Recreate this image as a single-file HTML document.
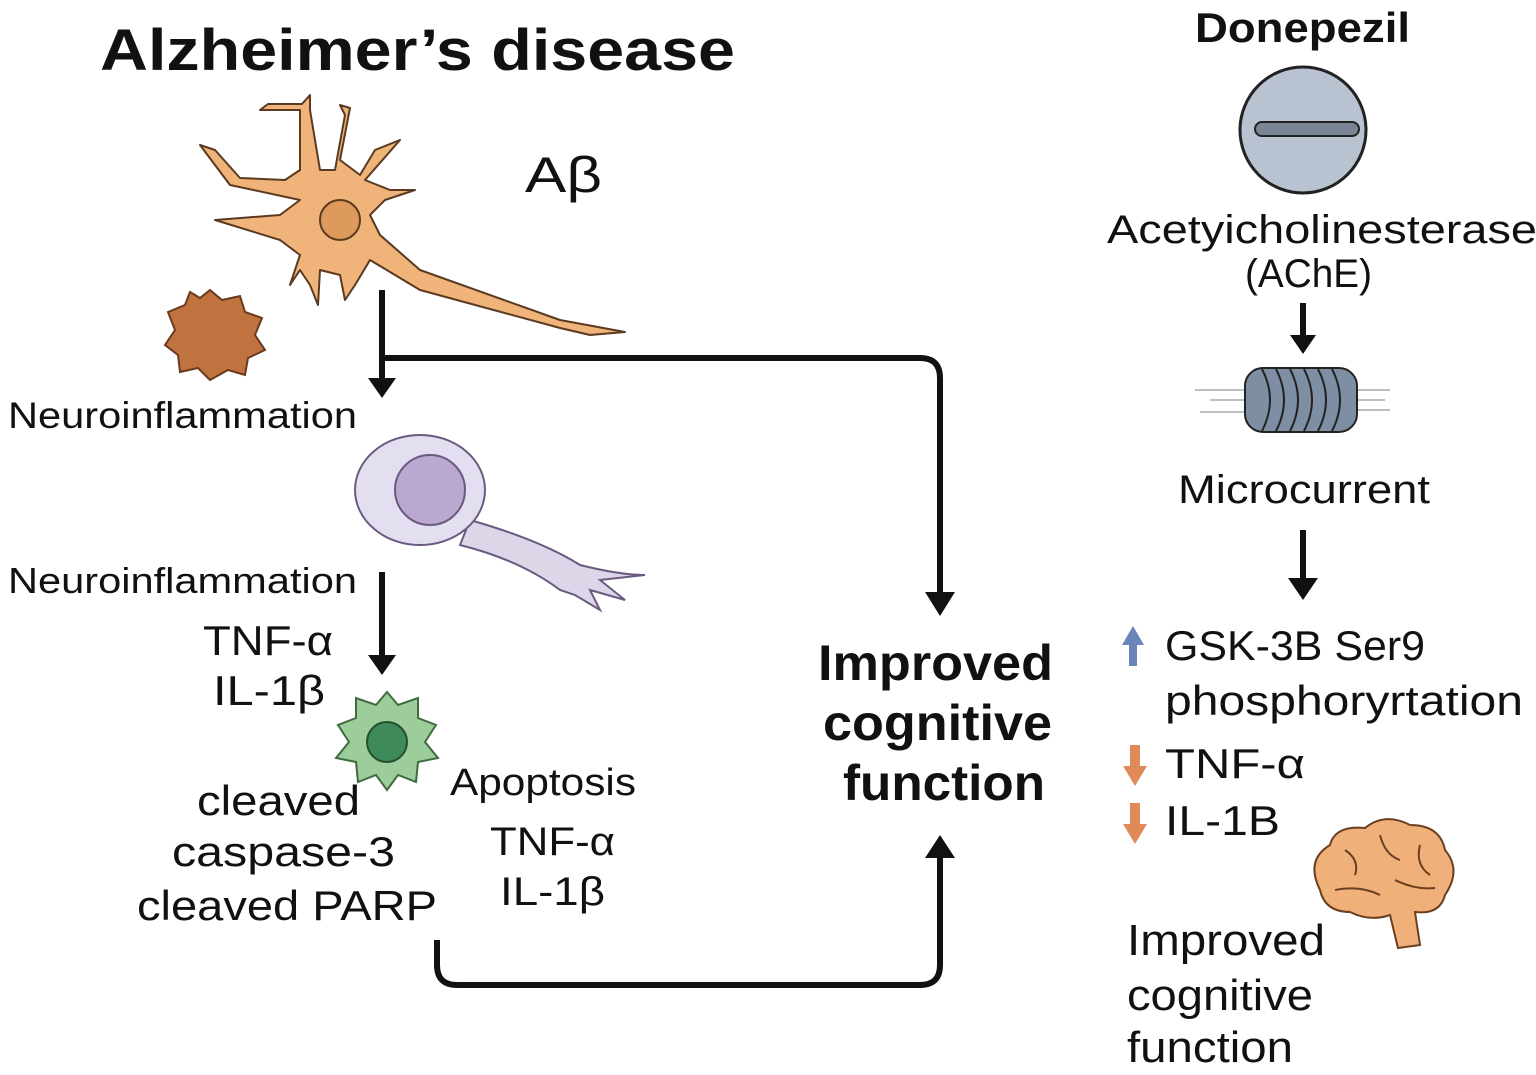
<!DOCTYPE html>
<html><head><meta charset="utf-8"><style>
html,body{margin:0;padding:0;background:#fff;}
svg{display:block;}
text{font-family:"Liberation Sans",sans-serif;fill:#111;}
</style></head><body>
<svg width="1536" height="1075" viewBox="0 0 1536 1075" xmlns="http://www.w3.org/2000/svg">
<text x="100" y="70" font-size="58" font-weight="bold" textLength="635" lengthAdjust="spacingAndGlyphs">Alzheimer’s disease</text>
<text x="525" y="192" font-size="50" textLength="77" lengthAdjust="spacingAndGlyphs">Aβ</text>

<!-- neuron -->
<g fill="#f0b47a" stroke="#5a3a20" stroke-width="2" stroke-linejoin="round">
<path d="M300,200 L230,185 L200,145 L215,150 L240,178 L285,180 L300,170 L300,110 L260,110 L268,104 L302,104 L310,95 L310,110 L320,170 L335,170 L345,115 L340,105 L350,108 L340,160 L360,175 L375,150 L400,140 L365,180 L390,190 L415,190 L385,200 L370,215 L380,235 L420,270 L560,320 L625,332 L590,335 L560,328 L420,290 L370,260 L355,285 L345,300 L340,275 L320,270 L318,305 L310,285 L300,270 L290,285 L300,255 L280,240 L215,220 L280,215 Z"/>
</g>
<circle cx="340" cy="220" r="20" fill="#de9a5c" stroke="#5a3a20" stroke-width="2"/>

<!-- microglia brown -->
<polygon fill="#c0733f" stroke="#6b3a1e" stroke-width="2" points="210,290 222,300 240,296 245,312 262,318 255,335 265,350 248,358 245,375 228,370 210,380 198,368 180,372 178,355 165,345 175,330 168,312 185,305 190,292 200,298"/>

<!-- connectors -->
<g fill="none" stroke="#111" stroke-width="6">
<line x1="382" y1="290" x2="382" y2="382"/>
<path d="M382,358 H920 Q940,358 940,378 V598"/>
<line x1="382" y1="572" x2="382" y2="658"/>
<path d="M437,940 V965 Q437,985 457,985 H920 Q940,985 940,965 V855"/>
<line x1="1303" y1="303" x2="1303" y2="338"/>
<line x1="1303" y1="530" x2="1303" y2="582"/>
</g>
<g fill="#111">
<polygon points="368,378 396,378 382,398"/>
<polygon points="925,592 955,592 940,616"/>
<polygon points="368,655 396,655 382,675"/>
<polygon points="925,858 955,858 940,835"/>
<polygon points="1290,335 1316,335 1303,354"/>
<polygon points="1288,578 1318,578 1303,600"/>
</g>

<text x="8" y="428" font-size="37" textLength="349" lengthAdjust="spacingAndGlyphs">Neuroinflammation</text>

<!-- purple cell -->
<path d="M470,520 Q540,540 580,565 Q620,575 645,575 L600,580 L625,600 L590,590 L600,610 L575,595 L560,590 Q520,560 460,545 Z" fill="#dcd6e8" stroke="#6a5a80" stroke-width="2"/>
<ellipse cx="420" cy="490" rx="65" ry="55" fill="#e3dff0" stroke="#6a5a80" stroke-width="2"/>
<circle cx="430" cy="490" r="35" fill="#b9a9d0" stroke="#6a5a80" stroke-width="2"/>

<text x="8" y="593" font-size="36" textLength="349" lengthAdjust="spacingAndGlyphs">Neuroinflammation</text>
<text x="203" y="655" font-size="42" textLength="130" lengthAdjust="spacingAndGlyphs">TNF-α</text>
<text x="213" y="705" font-size="42" textLength="112" lengthAdjust="spacingAndGlyphs">IL-1β</text>

<!-- green cell -->
<polygon fill="#9ccd9a" stroke="#3f6b3f" stroke-width="2" points="387,692 398,705 418,698 418,718 436,725 425,742 438,758 418,762 416,782 398,775 387,790 376,775 358,782 356,762 336,758 349,742 338,725 356,718 356,698 376,705"/>
<circle cx="387" cy="742" r="20" fill="#3e8a5a" stroke="#24502f" stroke-width="2"/>

<text x="197" y="815" font-size="42" textLength="163" lengthAdjust="spacingAndGlyphs">cleaved</text>
<text x="172" y="866" font-size="42" textLength="223" lengthAdjust="spacingAndGlyphs">caspase-3</text>
<text x="137" y="920" font-size="42" textLength="300" lengthAdjust="spacingAndGlyphs">cleaved PARP</text>
<text x="450" y="795" font-size="38" textLength="186" lengthAdjust="spacingAndGlyphs">Apoptosis</text>
<text x="490" y="855" font-size="40" textLength="125" lengthAdjust="spacingAndGlyphs">TNF-α</text>
<text x="500" y="905" font-size="40" textLength="105" lengthAdjust="spacingAndGlyphs">IL-1β</text>

<text x="818" y="680" font-size="50" font-weight="bold" textLength="235" lengthAdjust="spacingAndGlyphs">Improved</text>
<text x="823" y="740" font-size="50" font-weight="bold" textLength="229" lengthAdjust="spacingAndGlyphs">cognitive</text>
<text x="843" y="800" font-size="50" font-weight="bold" textLength="202" lengthAdjust="spacingAndGlyphs">function</text>

<!-- right column -->
<text x="1195" y="42" font-size="42" font-weight="bold" textLength="215" lengthAdjust="spacingAndGlyphs">Donepezil</text>
<circle cx="1303" cy="130" r="63" fill="#b8c2d0" stroke="#222" stroke-width="3"/>
<rect x="1255" y="122" width="104" height="14" rx="7" fill="#7a8595" stroke="#222" stroke-width="2"/>
<text x="1107" y="243" font-size="40" textLength="430" lengthAdjust="spacingAndGlyphs">Acetyicholinesterase</text>
<text x="1245" y="287" font-size="40" textLength="127" lengthAdjust="spacingAndGlyphs">(AChE)</text>

<!-- cylinder -->
<g stroke="#aaa" stroke-width="1.5">
<line x1="1195" y1="390" x2="1245" y2="390"/><line x1="1210" y1="400" x2="1245" y2="400"/><line x1="1200" y1="412" x2="1245" y2="412"/>
<line x1="1355" y1="390" x2="1390" y2="390"/><line x1="1355" y1="400" x2="1385" y2="400"/><line x1="1355" y1="410" x2="1390" y2="410"/>
</g>
<rect x="1245" y="368" width="112" height="64" rx="18" fill="#7e8ea3" stroke="#222" stroke-width="2"/>
<g fill="none" stroke="#222" stroke-width="2">
<path d="M1262,369 Q1278,400 1262,431"/><path d="M1276,369 Q1292,400 1276,431"/><path d="M1290,369 Q1306,400 1290,431"/><path d="M1304,369 Q1320,400 1304,431"/><path d="M1318,369 Q1334,400 1318,431"/><path d="M1332,369 Q1348,400 1332,431"/>
</g>
<text x="1178" y="503" font-size="40" textLength="252" lengthAdjust="spacingAndGlyphs">Microcurrent</text>

<polygon fill="#6a85b8" points="1133,626 1122,645 1129,645 1129,666 1137,666 1137,645 1144,645"/>
<text x="1165" y="660" font-size="42" textLength="260" lengthAdjust="spacingAndGlyphs">GSK-3B Ser9</text>
<text x="1165" y="715" font-size="42" textLength="358" lengthAdjust="spacingAndGlyphs">phosphoryrtation</text>
<polygon fill="#e08a5a" points="1130,745 1140,745 1140,766 1147,766 1135,786 1123,766 1130,766"/>
<text x="1165" y="778" font-size="42" textLength="140" lengthAdjust="spacingAndGlyphs">TNF-α</text>
<polygon fill="#e08a5a" points="1130,803 1140,803 1140,824 1147,824 1135,844 1123,824 1130,824"/>
<text x="1165" y="835" font-size="42" textLength="115" lengthAdjust="spacingAndGlyphs">IL-1B</text>

<!-- brain -->
<path d="M1320,890 Q1305,860 1330,845 Q1335,825 1365,828 Q1385,812 1410,825 Q1440,825 1445,850 Q1462,870 1445,895 Q1440,915 1415,912 L1420,945 L1398,948 L1390,915 Q1370,922 1350,912 Q1325,912 1320,890 Z" fill="#f0b07a" stroke="#6b4020" stroke-width="2"/>
<g fill="none" stroke="#6b4020" stroke-width="2">
<path d="M1345,850 Q1360,860 1355,875"/><path d="M1380,835 Q1385,855 1400,860"/><path d="M1420,845 Q1415,865 1430,875"/><path d="M1335,890 Q1360,885 1380,895"/><path d="M1395,880 Q1415,890 1435,888"/>
</g>

<text x="1127" y="955" font-size="44" textLength="198" lengthAdjust="spacingAndGlyphs">Improved</text>
<text x="1127" y="1010" font-size="44" textLength="186" lengthAdjust="spacingAndGlyphs">cognitive</text>
<text x="1127" y="1062" font-size="44" textLength="166" lengthAdjust="spacingAndGlyphs">function</text>
</svg>
</body></html>
